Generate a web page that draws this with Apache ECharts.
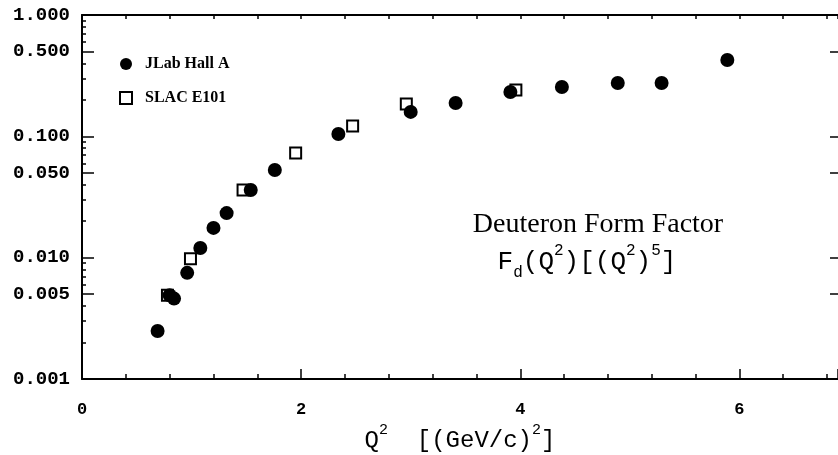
<!DOCTYPE html>
<html>
<head>
<meta charset="utf-8">
<script src="https://cdn.jsdelivr.net/npm/echarts@6/dist/echarts.min.js"></script>
<style>
  html, body { margin: 0; padding: 0; background: #fff; }
  #chart { width: 838px; height: 455px; }
</style>
</head>
<body>
<div id="chart"></div>
<script>
// JLab Hall A (filled circles) : Q^2 [(GeV/c)^2] and Fd(Q^2)*(Q^2)^5
const jlabQ2 = [0.69, 0.80, 0.84, 0.96, 1.08, 1.20, 1.32, 1.54, 1.76, 2.34, 3.00, 3.41, 3.91, 4.38, 4.89, 5.29, 5.89];
const jlabFd = [0.00249, 0.0049, 0.0046, 0.0075, 0.0120, 0.0176, 0.0233, 0.0361, 0.0528, 0.1045, 0.159, 0.188, 0.232, 0.255, 0.275, 0.275, 0.426];

// SLAC E101 (open squares)
const slacQ2 = [0.78, 0.99, 1.47, 1.95, 2.47, 2.96, 3.96];
const slacFd = [0.0049, 0.0098, 0.0361, 0.0729, 0.1217, 0.1846, 0.241];

const seriesNames = ['JLab Hall A', 'SLAC E101'];
const xTickLabels = [0, 2, 4, 6];
const xMax = 6.9;
// small log ticks inside each decade (2x, 3x, ... 9x)
const minorMults = [2, 3, 4, 6, 7, 8, 9];

const mono = '"Liberation Mono", "DejaVu Sans Mono", monospace';
const serif = '"Liberation Serif", "DejaVu Serif", serif';
const black = '#000';

const chart = echarts.init(document.getElementById('chart'));

const zip = (xs, ys) => xs.map((x, i) => [x, ys[i]]);

// x labels only at the major values
const xLabel = v => {
    const hit = xTickLabels.find(t => Math.abs(t - v) < 1e-6);
    return hit === undefined ? '' : String(hit);
};

const noSplit = { show: false };

// log axis whose decade ticks land on k*10^n of the main axis
const shiftedLogAxis = (k, position, tickLen, labels) => ({
    type: 'log', logBase: 10, position: position,
    min: 0.01 / k, max: 10 / k,
    axisLine: { show: false, onZero: false },
    axisTick: { inside: true, length: tickLen, lineStyle: { color: black, width: 1.5 } },
    axisLabel: labels ? {
        margin: 12, color: black, fontFamily: mono, fontWeight: 'bold', fontSize: 19,
        showMinLabel: false, showMaxLabel: false,
        formatter: v => (Number(v) * k / 10).toFixed(3)
    } : { show: false },
    splitLine: noSplit
});

const yAxes = [
    {
        // decades: 0.001 .. 1.000
        type: 'log', logBase: 10, position: 'left', min: 0.001, max: 1,
        axisLine: { onZero: false, lineStyle: { color: black, width: 2 } },
        axisTick: { inside: true, length: 12, lineStyle: { color: black, width: 1.5 } },
        axisLabel: {
            margin: 12, color: black, fontFamily: mono, fontWeight: 'bold', fontSize: 19,
            formatter: v => Number(v).toFixed(3)
        },
        splitLine: noSplit
    },
    shiftedLogAxis(5, 'left', 12, true),
    {
        type: 'log', logBase: 10, position: 'right', min: 0.001, max: 1,
        axisLine: { show: false, onZero: false },
        axisTick: { inside: true, length: 8, lineStyle: { color: black, width: 1.5 } },
        axisLabel: { show: false },
        splitLine: noSplit
    },
    shiftedLogAxis(5, 'right', 8, false)
].concat(minorMults.map(k => shiftedLogAxis(k, 'left', 4, false)));

const option = {
    backgroundColor: '#fff',
    animation: false,
    grid: { left: 82, right: 0, top: 15, bottom: 76, outerBoundsMode: 'none' },
    legend: {
        orient: 'vertical',
        left: 114,
        top: 51,
        itemGap: 18,
        itemWidth: 12,
        itemHeight: 12,
        textStyle: { color: black, fontFamily: serif, fontWeight: 'bold', fontSize: 16, padding: [0, 0, 0, 8] },
        data: [
            { name: seriesNames[0], icon: 'circle' },
            { name: seriesNames[1], icon: 'rect' }
        ]
    },
    xAxis: [
        {
            // bottom axis: small ticks every 0.4 + labels
            type: 'value', position: 'bottom', min: 0, max: xMax, interval: 0.4,
            axisLine: { onZero: false, lineStyle: { color: black, width: 2 } },
            axisTick: { inside: true, length: 5, lineStyle: { color: black, width: 1.5 } },
            axisLabel: {
                margin: 22, color: black, fontFamily: mono, fontWeight: 'bold', fontSize: 17,
                showMaxLabel: false, formatter: xLabel
            },
            splitLine: noSplit,
            name: '{m|Q}{sup|2}{m|  [(GeV/c)}{sup|2}{m|]}',
            nameLocation: 'middle',
            nameGap: 32,
            nameTextStyle: {
                color: black,
                rich: {
                    m: { fontFamily: mono, fontSize: 24, color: black, lineHeight: 30, verticalAlign: 'bottom' },
                    sup: { fontFamily: mono, fontSize: 15, color: black, lineHeight: 30, verticalAlign: 'top' }
                }
            }
        },
        {
            // bottom axis: longer ticks at the labelled values
            type: 'value', position: 'bottom', min: 0, max: xMax, interval: 2,
            axisLine: { show: false, onZero: false },
            axisTick: { inside: true, length: 10, lineStyle: { color: black, width: 1.5 } },
            axisLabel: { show: false },
            splitLine: noSplit
        },
        {
            // top frame
            type: 'value', position: 'top', min: 0, max: xMax, interval: 0.4,
            axisLine: { onZero: false, lineStyle: { color: black, width: 2 } },
            axisTick: { inside: true, length: 4, lineStyle: { color: black, width: 1.5 } },
            axisLabel: { show: false },
            splitLine: noSplit
        }
    ],
    yAxis: yAxes,
    graphic: [
        {
            type: 'text', x: 598, y: 225,
            style: {
                text: 'Deuteron Form Factor',
                fill: black, fontFamily: serif, fontSize: 28,
                align: 'center', verticalAlign: 'middle'
            }
        },
        {
            type: 'text', x: 587, y: 262,
            style: {
                text: '{m|F}{sub|d}{m|(Q}{sup|2}{m|)[(Q}{sup|2}{m|)}{sup|5}{m|]}',
                align: 'center', verticalAlign: 'middle',
                rich: {
                    m: { fontFamily: mono, fontSize: 26, fill: black, lineHeight: 38, verticalAlign: 'middle' },
                    sup: { fontFamily: mono, fontSize: 16, fill: black, lineHeight: 38, verticalAlign: 'top' },
                    sub: { fontFamily: mono, fontSize: 16, fill: black, lineHeight: 38, verticalAlign: 'bottom' }
                }
            }
        }
    ],
    series: [
        {
            name: seriesNames[1],
            type: 'scatter',
            xAxisIndex: 0, yAxisIndex: 0,
            data: zip(slacQ2, slacFd),
            symbol: 'rect',
            symbolSize: 11,
            itemStyle: { color: '#fff', borderColor: black, borderWidth: 2, opacity: 1 },
            z: 2
        },
        {
            name: seriesNames[0],
            type: 'scatter',
            xAxisIndex: 0, yAxisIndex: 0,
            data: zip(jlabQ2, jlabFd),
            symbol: 'circle',
            symbolSize: 14,
            itemStyle: { color: black, opacity: 1 },
            z: 3
        }
    ]
};

chart.setOption(option);
window.addEventListener('resize', () => chart.resize());
</script>
</body>
</html>
